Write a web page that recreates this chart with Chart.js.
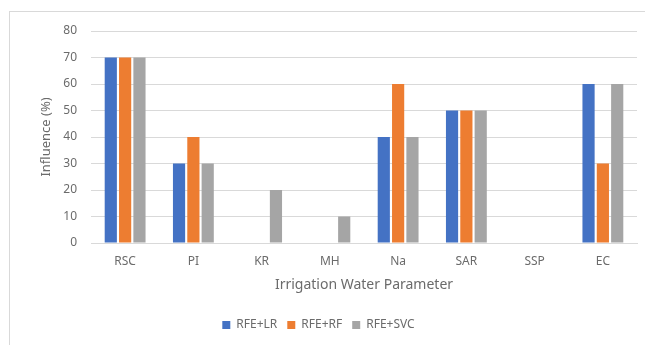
<!DOCTYPE html>
<html>
<head>
<meta charset="utf-8">
<script src="https://cdn.jsdelivr.net/npm/chart.js@4/dist/chart.umd.min.js"></script>
<style>
    html, body { margin: 0; padding: 0; background: #fff; }
    body { width: 645px; height: 345px; position: relative; overflow: hidden; }
    #frame { position: absolute; left: 9px; top: 11px; width: 700px; height: 400px; border: 1px solid #d9d9d9; }
    #wrap { position: absolute; left: 0; top: 0; width: 645px; height: 345px; }
</style>
</head>
<body>
<div id="frame"></div>
<div id="wrap"><canvas id="influenceChart" width="645" height="345"></canvas></div>
<script>
// Datos del gráfico
const parameters = ['RSC', 'PI', 'KR', 'MH', 'Na', 'SAR', 'SSP', 'EC'];
const rfeLR  = [70, 30, 0, 0, 40, 50, 0, 60];
const rfeRF  = [70, 40, 0, 0, 60, 50, 0, 30];
const rfeSVC = [70, 30, 20, 10, 40, 50, 0, 60];
const seriesNames = ['RFE+LR', 'RFE+RF', 'RFE+SVC'];
const yTicks = [0, 10, 20, 30, 40, 50, 60, 70, 80];

const textColor = '#6b6b6b';
const gridColor = '#d9d9d9';
Chart.defaults.font.family = '"Noto Sans", "Open Sans", sans-serif';
Chart.defaults.color = textColor;

const ctx = document.getElementById('influenceChart');

new Chart(ctx, {
    type: 'bar',
    data: {
        labels: parameters,
        datasets: [
            { label: seriesNames[0], data: rfeLR, backgroundColor: '#4472c4' },
            { label: seriesNames[1], data: rfeRF, backgroundColor: '#ed7d31' },
            { label: seriesNames[2], data: rfeSVC, backgroundColor: '#a5a5a5' }
        ]
    },
    options: {
        responsive: false,
        animation: false,
        layout: { padding: { top: 31, right: 8, bottom: 4, left: 0 } },
        datasets: {
            bar: { categoryPercentage: 0.63, barPercentage: 0.85 }
        },
        plugins: {
            legend: {
                position: 'bottom',
                labels: {
                    boxWidth: 8,
                    boxHeight: 8,
                    padding: 10,
                    font: { size: 12 },
                    color: textColor
                }
            },
            tooltip: { enabled: false }
        },
        scales: {
            x: {
                grid: { display: false, drawTicks: false },
                border: { color: gridColor },
                ticks: { padding: 11, font: { size: 12 } },
                title: {
                    display: true,
                    text: 'Irrigation Water Parameter',
                    font: { size: 14 },
                    padding: { top: 0, bottom: 16 }
                },
                afterFit: function(scale) { scale.height = 66; }
            },
            y: {
                min: 0,
                max: 80,
                afterBuildTicks: function(scale) {
                    scale.ticks = yTicks.map(v => ({ value: v }));
                },
                grid: { color: gridColor, drawTicks: false },
                border: { display: false },
                ticks: { padding: 14, font: { size: 12 } },
                title: {
                    display: true,
                    text: 'Influence (%)',
                    font: { size: 13 },
                    padding: { top: 38, bottom: 0 }
                },
                afterFit: function(scale) { scale.width = 91; }
            }
        }
    }
});
</script>
</body>
</html>
